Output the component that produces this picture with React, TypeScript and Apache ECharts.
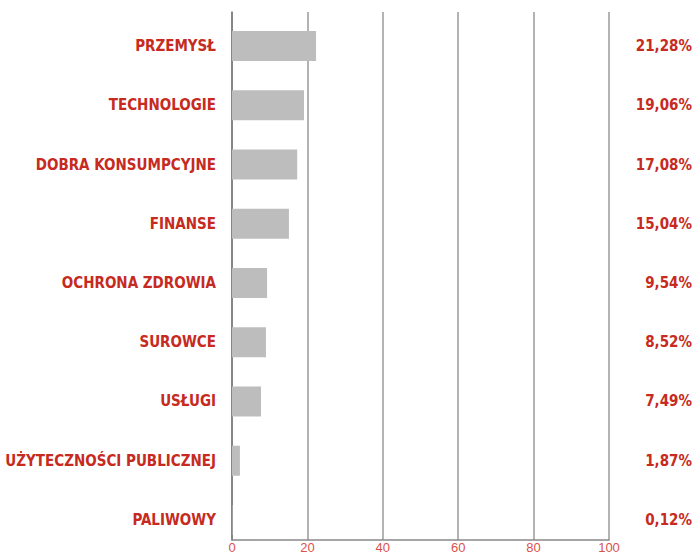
import React, { useEffect, useRef } from "react";
import * as echarts from "echarts";

const categories = [
  "PRZEMYSŁ",
  "TECHNOLOGIE",
  "DOBRA KONSUMPCYJNE",
  "FINANSE",
  "OCHRONA ZDROWIA",
  "SUROWCE",
  "USŁUGI",
  "UŻYTECZNOŚCI PUBLICZNEJ",
  "PALIWOWY",
];
const barValues = [22.3, 19.1, 17.3, 15.1, 9.3, 9.0, 7.7, 2.1, 0.12];
const valueLabels = ["21,28%", "19,06%", "17,08%", "15,04%", "9,54%", "8,52%", "7,49%", "1,87%", "0,12%"];
const xTicks = { min: 0, max: 100, interval: 20 };

const RED = "#c62a20";
const FONT = "'DejaVu Sans Condensed', 'DejaVu Sans', sans-serif";

export default function App() {
  const ref = useRef<HTMLDivElement>(null);
  useEffect(() => {
    if (!ref.current) return;
    const chart = echarts.init(ref.current, undefined, { renderer: "svg" });
    chart.setOption({
      animation: false,
      backgroundColor: "#ffffff",
      grid: [
        { left: 232, right: 87, top: 12, bottom: 15, outerBoundsMode: "none", containLabel: false },
        { left: 232, right: 87, top: 16.4, bottom: 5.4, outerBoundsMode: "none", containLabel: false },
      ],
      xAxis: [
        {
          gridIndex: 0,
          type: "value",
          min: xTicks.min,
          max: xTicks.max,
          interval: xTicks.interval,
          axisLine: { show: true, lineStyle: { color: "#888888", width: 1.5 } },
          axisTick: { show: false },
          splitLine: { show: true, lineStyle: { color: "#9a9a9a", width: 1.5 } },
          axisLabel: {
            color: "#d9524a",
            fontSize: 13,
            lineHeight: 13,
            fontFamily: "'Liberation Sans', sans-serif",
            margin: 1,
          },
        },
        { gridIndex: 1, type: "value", min: xTicks.min, max: xTicks.max, show: false },
      ],
      yAxis: [
        {
          gridIndex: 0,
          type: "value",
          min: 0,
          max: 1,
          axisLine: { show: true, lineStyle: { color: "#777777", width: 1.5 } },
          axisTick: { show: false },
          axisLabel: { show: false },
          splitLine: { show: false },
        },
        {
          gridIndex: 1,
          type: "category",
          inverse: true,
          data: categories,
          axisLine: { show: false },
          axisTick: { show: false },
          axisLabel: { color: RED, fontSize: 15, fontWeight: "bold", fontFamily: FONT, margin: 16 },
        },
        {
          gridIndex: 1,
          type: "category",
          position: "right",
          inverse: true,
          data: valueLabels,
          axisLine: { show: false },
          axisTick: { show: false },
          axisLabel: { color: RED, fontSize: 15, fontWeight: "bold", fontFamily: FONT, margin: 83, align: "right" },
        },
      ],
      series: [
        {
          type: "bar",
          xAxisIndex: 1,
          yAxisIndex: 1,
          data: barValues,
          barWidth: 30,
          itemStyle: { color: "#bdbdbd" },
          silent: true,
        },
      ],
    });
    return () => chart.dispose();
  }, []);
  return <div ref={ref} style={{ position: "fixed", left: 0, top: 0, width: 696, height: 555 }} />;
}
